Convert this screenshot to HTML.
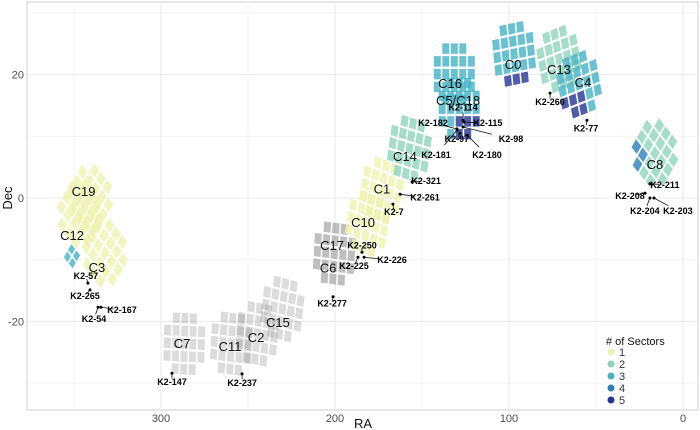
<!DOCTYPE html>
<html><head><meta charset="utf-8"><style>
body{margin:0;background:#fff;}
svg{display:block;font-family:"Liberation Sans",sans-serif;}
</style></head><body>
<svg id="chart" width="700" height="430" viewBox="0 0 700 430">
<g id="grid"></g>
<g id="fields"></g>
<g id="labels"></g>
<g id="planets"></g>
<g id="axes"></g>
<g id="legend"></g>
</svg>
<script>
const xTicks=[300,200,100,0];
const xMinor=[350,250,150,50];
const yTicks=[-20,0,20];
const yMinor=[-30,-10,10,30];
const fieldNames=["C12","C19","C3","C3b","C7","C11","C2","C15","C17","C10","C1","C14","C16","C5","C0","C13","C4","C8"];
const fieldRA=[346.6,340.8,332.2,351.1,286.2,259.2,244.3,229.9,200,181,173,156.9,131,128.2,96.6,70.7,59.2,16.1];
const fieldDec=[-2.8,-0.3,-9.2,-9.7,-23.8,-23.8,-22.2,-18.2,-9.2,-4.4,1.0,7.8,19.9,14.3,23.2,22.4,18.3,7.0];
const fieldLevel=[1,1,1,3,0,0,0,0,0,1,1,2,3,3,3,2,3,2];
const campLabels=["C19","C12","C3","C7","C11","C2","C15","C17","C6","C10","C1","C14","C16","C5/C18","C0","C13","C4","C8"];
const campRA=[344.5,351.1,336.8,287.9,260.3,245.4,232.8,201.7,204.0,183.9,173.0,159.8,133.9,129.3,97.7,71.3,57.5,16.1];
const campDec=[1.1,-6.0,-11.2,-23.5,-24.0,-22.5,-20.1,-7.6,-11.3,-3.9,1.5,6.8,18.6,15.9,21.7,20.9,18.8,5.5];
const planetNames=["K2-114","K2-182","K2-115","K2-98","K2-97","K2-181","K2-180","K2-260","K2-77","K2-321","K2-261","K2-7","K2-250","K2-226","K2-225","K2-277","K2-147","K2-237","K2-57","K2-265","K2-54","K2-167","K2-211","K2-208","K2-204","K2-203"];
const planetRA=[126.4,129.9,125.9,126.4,128.2,129.9,124.1,76.4,55.2,155.7,162.6,166.7,184.5,183.3,186.8,201.1,293.7,253.4,342,340.8,336.2,334.5,19.0,21.8,19.0,16.7];
const planetDec=[12.6,11.2,12.3,11.5,10.5,11.0,10.2,17.0,12.6,2.6,0.6,-1.0,-8.8,-9.6,-9.6,-16.0,-28.4,-28.5,-13.8,-14.9,-17.7,-17.7,2.3,0.8,0.0,0.0];
const legendLevels=[1,2,3,4,5];

const NS="http://www.w3.org/2000/svg";
const x=v=>683-v*1.74, y=v=>198-v*6.17;
const L=27,R=698,T=2,B=410;
const colors=["#8a8a8a","#eef3b0","#8fd3bd","#45b3c6","#2c7fb8","#253494"];
function el(t,a,p){const e=document.createElementNS(NS,t);for(const k in a)e.setAttribute(k,a[k]);p.appendChild(e);return e;}
const grid=document.getElementById('grid');
el('rect',{x:L,y:T,width:R-L,height:B-T,fill:'#fff',stroke:'#cfcfcf','stroke-width':1},grid);
xMinor.forEach(v=>{const l=el('line',{x1:x(v),x2:x(v),y1:T,y2:B,stroke:'#f3f3f3'},grid);});
yMinor.forEach(v=>{const l=el('line',{x1:L,x2:R,y1:y(v),y2:y(v),stroke:'#f3f3f3'},grid);});
xTicks.forEach(v=>{const l=el('line',{x1:x(v),x2:x(v),y1:T,y2:B,stroke:'#e8e8e8'},grid);});
yTicks.forEach(v=>{const l=el('line',{x1:L,x2:R,y1:y(v),y2:y(v),stroke:'#e8e8e8'},grid);});
const angles={C12:40,C19:40,C3:40,C3b:40,C7:2,C11:5,C2:8,C15:10,C17:5,C10:15,C1:15,C14:12,C16:0,C5:0,C0:-8,C13:-15,C4:-15,C8:40};
const fg=document.getElementById('fields');
fieldNames.forEach((n,i)=>{
  const g=el('g',{transform:`translate(${x(fieldRA[i])},${y(fieldDec[i])}) scale(1,1.5) rotate(${angles[n]})`},fg);
  
  
  const lvl=fieldLevel[i], c=colors[lvl], small=n==='C3b';
  const op=lvl===0?(n==='C17'?0.55:0.3):0.8;
  const N=small?2:5, s=small?5:7, gap=1.5;
  for(let r=0;r<N;r++)for(let k=0;k<N;k++){
    if(!small&&((r===0||r===4)&&(k===0||k===4)))continue;
    let col=c;
    if((n==='C5'&&r>=3&&k>=2)||(n==='C0'&&r===4)||(n==='C4'&&r>=3&&k<=2)||(n==='C8'&&r>=3&&k<=1))col=colors[Math.min(5,lvl+2)];
    const m=el('rect',{x:(k-N/2)*(s+gap),y:(r-N/2)*(s+gap),width:s,height:s,fill:col,opacity:op},g);
    
    
  }
});
const lg=document.getElementById('labels');
campLabels.forEach((n,i)=>{const t=el('text',{x:x(campRA[i]),y:y(campDec[i])+5,'text-anchor':'middle','font-size':13,fill:'#111'},lg);t.textContent=n;});
const offs={"K2-114":[0,-13],"K2-182":[-24,-6],"K2-115":[24,1],"K2-98":[48,12],"K2-97":[-3,6],"K2-181":[-21,25],"K2-180":[20,20],"K2-260":[0,9],"K2-77":[-1,8],"K2-321":[14,-1],"K2-261":[25,3],"K2-7":[1,8],"K2-250":[0,-7],"K2-226":[28,3],"K2-225":[-4,9],"K2-277":[-1,7],"K2-147":[0,9],"K2-237":[0,9],"K2-57":[-2,-7],"K2-265":[-5,6],"K2-54":[-4,12],"K2-167":[21,3],"K2-211":[15,1],"K2-208":[-15,3],"K2-204":[-5,13],"K2-203":[24,13]};
const pg=document.getElementById('planets');
planetNames.forEach((n,i)=>{
  const px=x(planetRA[i]),py=y(planetDec[i]),o=offs[n];
  const g=el('g',{},pg);
  el('line',{x1:px,y1:py,x2:px+o[0]*0.6,y2:py+o[1]*0.6,stroke:'#111','stroke-width':0.8},g);
  el('circle',{cx:px,cy:py,r:1.5,fill:'#000'},g);
  const t=el('text',{x:px+o[0],y:py+o[1]+3,'text-anchor':'middle','font-size':9,'font-weight':'bold',fill:'#000'},g);t.textContent=n;
});
const ax=document.getElementById('axes');
xTicks.forEach(v=>{const t=el('text',{x:x(v),y:B+12,'text-anchor':'middle','font-size':11,fill:'#4d4d4d'},ax);t.textContent=v;});
yTicks.forEach(v=>{const t=el('text',{x:L-3,y:y(v)+4,'text-anchor':'end','font-size':11,fill:'#4d4d4d'},ax);t.textContent=v;});
const xt=el('text',{x:363,y:428,'text-anchor':'middle','font-size':13,fill:'#111'},ax);xt.textContent='RA';
const yt=el('text',{x:0,y:0,transform:'translate(12,198) rotate(-90)','text-anchor':'middle','font-size':13,fill:'#111'},ax);yt.textContent='Dec';
const lgd=document.getElementById('legend');
const lt=el('text',{x:606,y:345,'font-size':11,fill:'#111'},lgd);lt.textContent='# of Sectors';
legendLevels.forEach((v,i)=>{const g=el('g',{},lgd);
  el('circle',{cx:611,cy:352+i*12,r:3.5,fill:colors[v]},g);
  const t=el('text',{x:619,y:356+i*12,'font-size':11,fill:'#333'},g);t.textContent=v;});
</script>
</body></html>
